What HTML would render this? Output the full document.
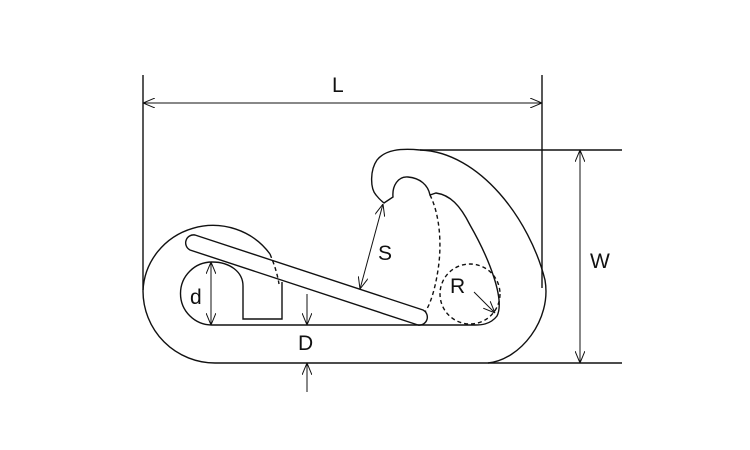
<!DOCTYPE html>
<html><head><style>
html,body{margin:0;padding:0;background:#fff;}
svg{display:block}
text{font-family:"Liberation Sans",sans-serif;font-size:21px;fill:#111}
</style></head><body>
<svg width="750" height="450" viewBox="0 0 750 450" xmlns="http://www.w3.org/2000/svg">
<defs>
<marker id="a" viewBox="0 0 12 10" refX="12" refY="5" markerWidth="12" markerHeight="10" markerUnits="userSpaceOnUse" orient="auto-start-reverse">
<path d="M0,0 L12,5 L0,10" fill="none" stroke="#111" stroke-width="1"/>
</marker>
</defs>
<g fill="none" stroke="#111" stroke-width="1.4">
<line x1="143" y1="75" x2="143" y2="290"/>
<line x1="542" y1="75" x2="542" y2="288"/>
<line x1="420" y1="150" x2="622" y2="150"/>
<line x1="488" y1="363" x2="622" y2="363"/>
<path d="M488,363 L215,363 A72,72 0 0 1 143,291 A70,68 0 0 1 270,254"/>
<path d="M420,150 C480,152 530,220 545,280 C552,320 520,360 488,363"/>
<path d="M420,150 C400,148 385,150 377,160 C370,170 370,188 376,195 C380,200 384,203 384,203 L393,197 C392,186 398,176 408,177 C420,178 428,185 430,195 L436,193 C450,195 460,205 470,225 C490,260 505,300 497,316 C490,325 480,325 475,325 L212,325 A31,31 0 0 1 212,262 C230,262 243,272 243,286 L243,319 L282,319 L282,282"/>
<path d="M195,235 L423,310 A8,8 0 0 1 418,325 L190,250 A8,8 0 0 1 195,235 Z"/>
<path d="M270,254 C274,264 277,272 279,284" stroke-dasharray="4,3"/>
<path d="M430,195 C440,215 442,245 438,270 C435,290 430,305 425,312" stroke-dasharray="4,3"/>
<circle cx="470" cy="294" r="30" stroke-dasharray="4,3"/>
<line x1="143" y1="103" x2="542" y2="103" marker-start="url(#a)" marker-end="url(#a)" stroke-width="1"/>
<line x1="580" y1="150" x2="580" y2="363" marker-start="url(#a)" marker-end="url(#a)" stroke-width="1"/>
<line x1="383" y1="204" x2="360" y2="289" marker-start="url(#a)" marker-end="url(#a)" stroke-width="1"/>
<line x1="211" y1="262" x2="211" y2="325" marker-start="url(#a)" marker-end="url(#a)" stroke-width="1"/>
<line x1="307" y1="294" x2="307" y2="325" marker-end="url(#a)" stroke-width="1"/>
<line x1="307" y1="392" x2="307" y2="363" marker-end="url(#a)" stroke-width="1"/>
<line x1="474" y1="292" x2="495" y2="313" marker-end="url(#a)" stroke-width="1"/>
</g>
<text x="332" y="92">L</text>
<text x="590" y="268">W</text>
<text x="378" y="260">S</text>
<text x="450" y="293">R</text>
<text x="190" y="304">d</text>
<text x="298" y="350">D</text>
</svg>
</body></html>
